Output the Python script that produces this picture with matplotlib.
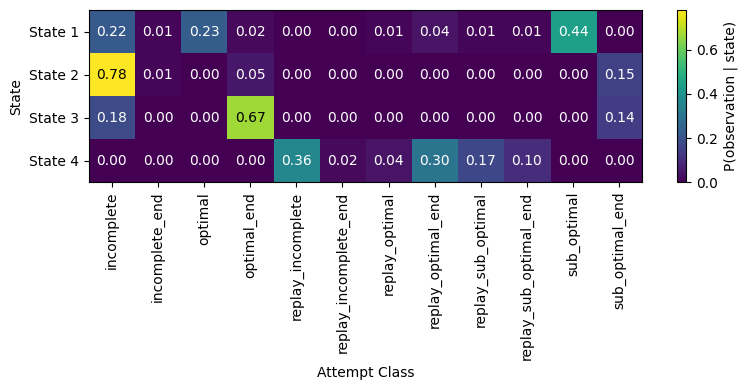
import numpy as np
import matplotlib
matplotlib.use("Agg")
import matplotlib.pyplot as plt

states = ["State 1", "State 2", "State 3", "State 4"]
classes = ["incomplete", "incomplete_end", "optimal", "optimal_end",
           "replay_incomplete", "replay_incomplete_end", "replay_optimal",
           "replay_optimal_end", "replay_sub_optimal", "replay_sub_optimal_end",
           "sub_optimal", "sub_optimal_end"]

state1 = [0.22, 0.01, 0.23, 0.02, 0.00, 0.00, 0.01, 0.04, 0.01, 0.01, 0.44, 0.00]
state2 = [0.78, 0.01, 0.00, 0.05, 0.00, 0.00, 0.00, 0.00, 0.00, 0.00, 0.00, 0.15]
state3 = [0.18, 0.00, 0.00, 0.67, 0.00, 0.00, 0.00, 0.00, 0.00, 0.00, 0.00, 0.14]
state4 = [0.00, 0.00, 0.00, 0.00, 0.36, 0.02, 0.04, 0.30, 0.17, 0.10, 0.00, 0.00]

emission = np.array([state1, state2, state3, state4])

fig = plt.figure(figsize=(7.46, 3.9), dpi=100)
ax = fig.add_axes([0.119, 0.533, 0.742, 0.441])
cax = fig.add_axes([0.9075, 0.533, 0.012, 0.441])

im = ax.imshow(emission, cmap="viridis", aspect="auto", vmin=0)

for i in range(emission.shape[0]):
    for j in range(emission.shape[1]):
        val = emission[i, j]
        color = "black" if val > emission.max() * 0.6 else "white"
        ax.text(j, i, f"{val:.2f}", ha="center", va="center", color=color, fontsize=10)

ax.set_xticks(range(len(classes)))
ax.set_xticklabels(classes, rotation=90)
ax.set_yticks(range(len(states)))
ax.set_yticklabels(states)
ax.set_xlabel("Attempt Class")
ax.set_ylabel("State")

cbar = fig.colorbar(im, cax=cax)
cbar.set_label("P(observation | state)")

plt.savefig("out.png", dpi=100)
